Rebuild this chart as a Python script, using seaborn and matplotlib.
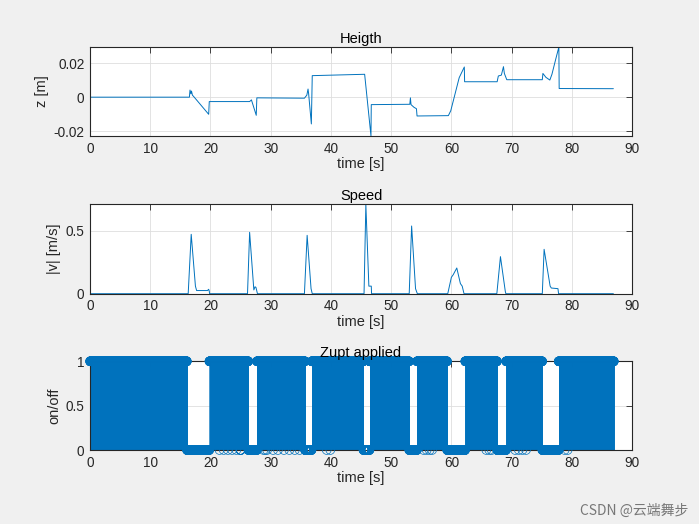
import numpy as np
import matplotlib
matplotlib.use('Agg')
import matplotlib.pyplot as plt
from matplotlib.ticker import FuncFormatter
import seaborn as sns

sns.set_theme(style='white')
plt.rcParams['font.family'] = ['Liberation Sans', 'DejaVu Sans']
plt.rcParams['axes.unicode_minus'] = False

blue = '#0072BD'
dark = '#262626'

# height curve, breakpoints
height_t = [0, 16.5, 16.6, 16.75, 16.85, 17.0, 17.3, 19.7, 19.8, 26.5, 26.8, 27.6, 27.7,
            35.6, 36.0, 36.2, 36.3, 36.75, 36.9, 45.6, 46.65, 46.7, 53.1, 53.2, 53.3,
            53.8, 54.2, 54.3, 59.5, 59.9, 61.3, 62.15, 62.2, 67.6, 67.8, 68.3, 68.65,
            68.8, 69.2, 75.1, 75.2, 75.7, 76.35, 76.7, 77.3, 77.85, 77.9, 86.9]
height_z = [0, 0, 0.0042, 0.002, 0.0036, 0.0012, 0, -0.0101, -0.0026, -0.0026, -0.0016,
            -0.0107, -0.0004, -0.0006, 0.0012, 0.0048, 0.002, -0.0158, 0.0127, 0.0135,
            -0.0229, -0.0044, -0.0042, -0.0004, -0.0044, -0.006, -0.0068, -0.0111,
            -0.0109, -0.008, 0.0115, 0.0178, 0.0091, 0.0091, 0.0125, 0.013, 0.018,
            0.014, 0.0103, 0.0103, 0.014, 0.0117, 0.0101, 0.0135, 0.022, 0.0296,
            0.0051, 0.005]

# speed curve
speed_t = [0, 16.3, 16.8, 17.5, 17.7, 19.5, 19.7, 19.8, 19.85, 26.15, 26.5, 27.2, 27.4,
           27.55, 27.8, 35.6, 36.05, 36.7, 36.9, 45.5, 45.8, 46.3, 46.7, 46.75, 53.0,
           53.4, 54.05, 54.35, 59.4, 60.0, 60.3, 60.9, 61.5, 61.8, 62.1, 67.55, 68.15,
           68.95, 69.05, 75.1, 75.4, 76.4, 76.6, 77.7, 77.8, 86.9]
speed_v = [0, 0, 0.471, 0.06, 0.025, 0.025, 0.035, 0.02, 0, 0, 0.487, 0.03, 0.055,
           0.05, 0, 0, 0.463, 0.04, 0, 0, 0.709, 0.06, 0.06, 0, 0, 0.537, 0.04, 0, 0,
           0.13, 0.15, 0.204, 0.08, 0.06, 0, 0, 0.294, 0.02, 0, 0, 0.352, 0.06, 0.045,
           0.04, 0, 0]

# zupt: off intervals and single off samples, everything else is on
zupt_off = [(16.1, 19.8), (24.95, 25.05), (26.3, 27.7), (35.7, 36.8), (45.4, 46.4),
            (53.0, 54.3), (59.3, 62.3), (67.6, 69.1), (75.1, 77.8)]
zupt_single_off = [21.5, 22.2, 22.9, 23.6, 24.3, 28.8, 29.1, 29.4, 30.4, 31.2, 32.2,
                   33.1, 34.0, 34.8, 39.3, 39.9, 55.4, 55.9, 56.4, 56.8, 65.8, 66.3,
                   66.7, 70.6, 71.2, 71.8, 72.4, 78.8, 79.3]
zupt_end = 87.0
zupt_rate = 50  # samples per second

t_zupt = np.arange(0, zupt_end, 1.0 / zupt_rate)
zupt = np.ones_like(t_zupt)
for a, b in zupt_off:
    zupt[(t_zupt >= a) & (t_zupt <= b)] = 0
for s in zupt_single_off:
    zupt[np.argmin(np.abs(t_zupt - s))] = 0

fig = plt.figure(figsize=(6.99, 5.24), dpi=100, facecolor='#f0f0f0')
ax1 = fig.add_axes([0.1288, 0.7405, 0.7754, 0.1698])
ax2 = fig.add_axes([0.1288, 0.4395, 0.7754, 0.1706])
ax3 = fig.add_axes([0.1288, 0.1412, 0.7754, 0.1693])

sns.lineplot(x=height_t, y=height_z, ax=ax1, color=blue, linewidth=0.7,
             estimator=None, sort=False)
sns.lineplot(x=speed_t, y=speed_v, ax=ax2, color=blue, linewidth=0.7,
             estimator=None, sort=False)

ax3.vlines(t_zupt, 0, zupt, color=blue, linewidth=0.5)
sns.scatterplot(x=t_zupt, y=zupt, ax=ax3, marker='o', s=40, facecolors='none',
                edgecolor=blue, linewidth=0.5, clip_on=False, zorder=3)

fmt = FuncFormatter(lambda v, p: '%g' % round(v, 6))
setup = [(ax1, 'Heigth', 'z [m]', (-0.0229, 0.0296), [-0.02, 0, 0.02]),
         (ax2, 'Speed', '|v| [m/s]', (0, 0.709), [0, 0.5]),
         (ax3, 'Zupt applied', 'on/off', (0, 1), [0, 0.5, 1])]
for ax, title, ylab, ylim, yt in setup:
    ax.set_facecolor('white')
    ax.set_xlim(0, 90)
    ax.set_ylim(*ylim)
    ax.set_xticks(range(0, 91, 10))
    ax.set_yticks(yt)
    ax.yaxis.set_major_formatter(fmt)
    ax.grid(True, color='#dedede', linewidth=0.6)
    ax.set_axisbelow(True)
    for sp in ax.spines.values():
        sp.set_color(dark)
        sp.set_linewidth(0.8)
    ax.tick_params(direction='in', length=4, width=0.6, color=dark, labelcolor=dark,
                   labelsize=9.8, top=True, right=True, pad=4)
    ax.set_title(title, fontsize=10.5, color='black', pad=3)
    ax.set_xlabel('time [s]', fontsize=10.5, color=dark, labelpad=1)
    ax.set_ylabel(ylab, fontsize=10.5, color=dark, labelpad=3)

fig.text(0.985, 0.012, 'CSDN @云端舞步', ha='right', va='bottom', fontsize=10,
         color='#777777', family=['Noto Sans CJK SC', 'DejaVu Sans'])

fig.savefig('out.png', dpi=100, facecolor=fig.get_facecolor())
